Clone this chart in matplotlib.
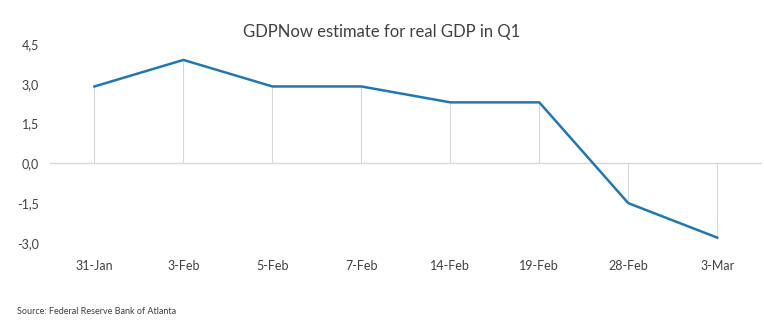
import matplotlib.pyplot as plt
import numpy as np

dates = ["31-Jan", "3-Feb", "5-Feb", "7-Feb", "14-Feb", "19-Feb", "28-Feb", "3-Mar"]
gdpnow = [2.9, 3.9, 2.9, 2.9, 2.3, 2.3, -1.5, -2.8]
y_ticks = [-3.0, -1.5, 0.0, 1.5, 3.0, 4.5]

plt.rcParams['font.family'] = ['Lato', 'DejaVu Sans']

fig = plt.figure(figsize=(7.64, 3.36), dpi=100)
ax = fig.add_axes([0.0654, 0.277, 0.9316, 0.592])

x = np.arange(len(dates)) + 0.5
ax.vlines(x, 0, gdpnow, color='#d9d9d9', lw=0.8, zorder=1)
ax.axhline(0, color='#d9d9d9', lw=1.0, zorder=1)
ax.plot(x, gdpnow, color='#1f78b4', lw=1.8, zorder=3)

ax.set_xlim(0, len(dates))
ax.set_ylim(-3.0, 4.5)
ax.set_xticks(x)
ax.set_xticklabels(dates)
ax.set_yticks(y_ticks)
ax.set_yticklabels([f"{v:.1f}".replace('.', ',') for v in y_ticks])
ax.tick_params(length=0, labelsize=9, colors='#404040', pad=8)
ax.tick_params(axis='x', pad=12)
for s in ax.spines.values():
    s.set_visible(False)

fig.text(0.5, 0.905, "GDPNow estimate for real GDP in Q1", ha='center', va='center',
         fontsize=12, color='#404040')
fig.text(0.022, 0.072, "Source: Federal Reserve Bank of Atlanta", ha='left', va='center',
         fontsize=6.5, color='#404040')

fig.savefig("out.png", dpi=100)
